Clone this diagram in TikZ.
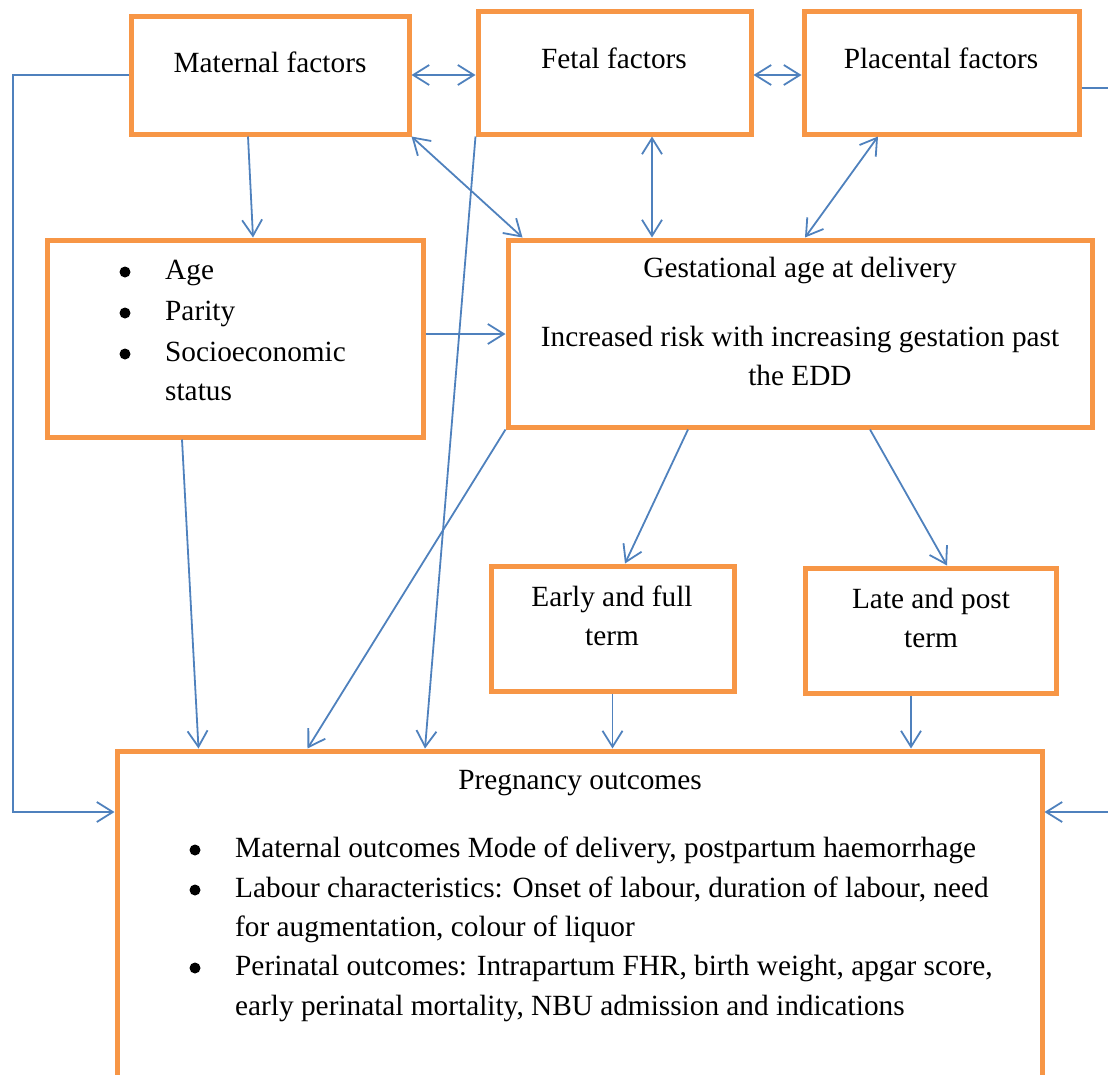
\documentclass[tikz,border=0pt]{standalone}
\usepackage{fontspec}
\setmainfont{Liberation Serif}
\usetikzlibrary{arrows.meta}
\definecolor{boxorange}{HTML}{F79646}
\definecolor{lineblue}{HTML}{4F81BD}
\tikzset{
  box/.style={draw=boxorange, line width=5pt, inner sep=0pt},
  link/.style={draw=lineblue, line width=1.8pt},
  txt/.style={inner sep=0pt, align=center},
  dot/.style={circle, fill=black, inner sep=0pt, minimum size=11pt},
  >={Straight Barb[length=16pt,width=20pt]}
}

\begin{document}
\begin{tikzpicture}[x=1pt, y=-1pt, font=\fontsize{29.3}{39}\selectfont]
  \useasboundingbox (0,0) rectangle (1108,1074);
  \clip (0,0) rectangle (1108,1074);
  % boxes
  \node[box, minimum width=278pt, minimum height=118pt] (matf) at (270,75) {};
  \node[box, minimum width=273pt, minimum height=123pt] (fetf) at (614.5,72.5) {};
  \node[box, minimum width=275pt, minimum height=123pt] (plaf) at (941.5,72.5) {};
  \node[box, minimum width=376pt, minimum height=197pt] (risk) at (235,338.5) {};
  \node[box, minimum width=584pt, minimum height=187pt] (gest) at (800,333.5) {};
  \node[box, minimum width=243pt, minimum height=125pt] (early) at (612.5,628.5) {};
  \node[box, minimum width=251pt, minimum height=125pt] (late) at (930.5,630.5) {};
  \node[box, minimum width=925pt, minimum height=349pt] (outc) at (579.5,925.5) {};
  % texts
  \node[txt] (tmat) at (270,62) {Maternal factors};
  \node[txt] (tfet) at (614,58) {Fetal factors};
  \node[txt] (tpla) at (941,58) {Placental factors};
  \node[txt] (tgest) at (800,270) {Gestational age at delivery};
  \node[txt] (tinc) at (800,356) {Increased risk with increasing gestation past\\the EDD};
  \node[txt] (tearly) at (612,616) {Early and full\\term};
  \node[txt] (tlate) at (931,618) {Late and post\\term};
  \node[txt] (tout) at (580,783) {Pregnancy outcomes};
  \foreach \i/\y/\b/\t in {1/272/1/Age, 2/313/1/Parity, 3/354/1/Socioeconomic, 4/393/0/status}{
    \ifnum\b=1 \node[dot] (rb\i) at (125,\y) {}; \fi
    \node[txt, anchor=west] (rt\i) at (165,\y) {\strut\t};}
  \foreach \i/\y/\b/\t in {1/850/1/{Maternal outcomes Mode of delivery, postpartum haemorrhage},
                           2/890/1/{Labour characteristics: Onset of labour, duration of labour, need},
                           3/929/0/{for augmentation, colour of liquor},
                           4/968/1/{Perinatal outcomes: Intrapartum FHR, birth weight, apgar score,},
                           5/1008/0/{early perinatal mortality, NBU admission and indications}}{
    \ifnum\b=1 \node[dot] (ob\i) at (195,\y) {}; \fi
    \node[txt, anchor=west] (ot\i) at (235,\y) {\strut\t};}
  % connectors
  \draw[link, <->] (matf.east) -- (matf.east -| fetf.west);
  \draw[link, <->] (fetf.east |- matf.east) -- (plaf.west |- matf.east);
  \draw[link, ->] (matf.west) -- (13,75) |- ([yshift=113.5pt]outc.west);
  \draw[link, ->] ([yshift=-15.5pt]plaf.east) -- (1125,88) |- ([yshift=113.5pt]outc.east);
  \draw[link, ->] ([xshift=-22pt]matf.south) -- ([xshift=18pt]risk.north);
  \draw[link, <->] (matf.south east) -- ([xshift=17pt]gest.north west);
  \draw[link, <->] ([xshift=37.5pt]fetf.south) -- ([xshift=37.5pt]fetf.south |- gest.north);
  \draw[link, <->] ([xshift=-63.5pt]plaf.south) -- ([xshift=5pt]gest.north);
  \draw[link, ->] (fetf.south west) -- ([xshift=-154.5pt]outc.north);
  \draw[link, ->] ([yshift=4.5pt]risk.east) -- ([yshift=4.5pt]risk.east -| gest.west);
  \draw[link, ->] ([xshift=-53pt]risk.south) -- ([xshift=84pt]outc.north west);
  \draw[link, ->] (gest.south west) -- ([xshift=193pt]outc.north west);
  \draw[link, ->] ([xshift=-112pt]gest.south) -- ([xshift=12.5pt]early.north);
  \draw[link, ->] ([xshift=70pt]gest.south) -- ([xshift=16.5pt]late.north);
  \draw[link, ->] (early.south) -- (early.south |- outc.north);
  \draw[link, ->] ([xshift=-19.5pt]late.south) -- ([xshift=-19.5pt]late.south |- outc.north);
\end{tikzpicture}
\end{document}
